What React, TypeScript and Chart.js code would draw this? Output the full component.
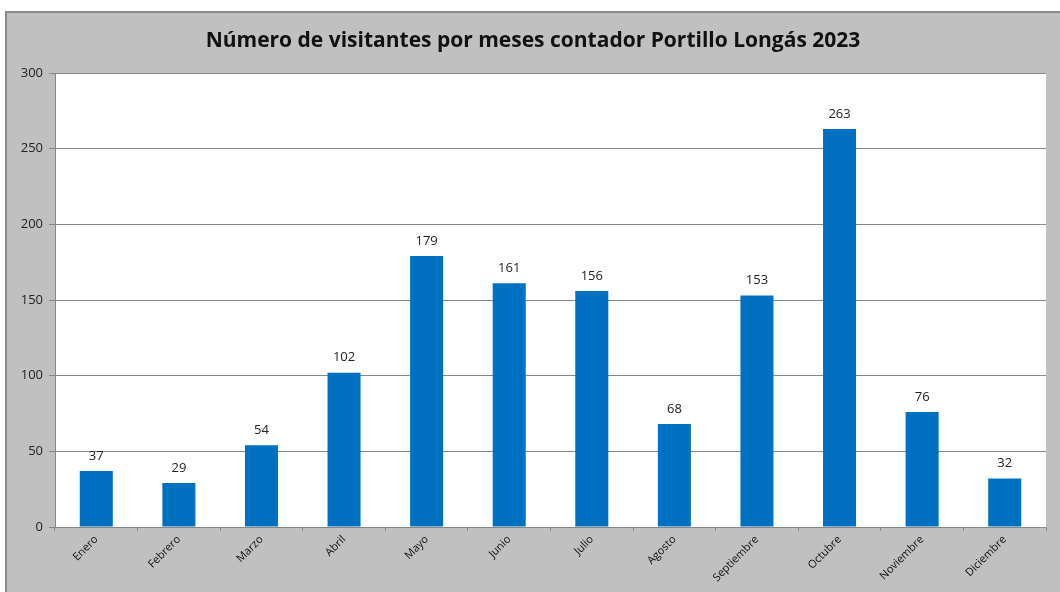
import React, { useEffect, useRef } from "react";
import { Chart, registerables } from "chart.js";

Chart.register(...registerables);

const TITLE = "Número de visitantes por meses contador Portillo Longás 2023";
const MONTHS = [
  "Enero", "Febrero", "Marzo", "Abril", "Mayo", "Junio",
  "Julio", "Agosto", "Septiembre", "Octubre", "Noviembre", "Diciembre",
];
const VISITORS = [37, 29, 54, 102, 179, 161, 156, 68, 153, 263, 76, 32];
const Y_MIN = 0;
const Y_MAX = 300;
const Y_STEP = 50;

const FONT = "'Open Sans', 'DejaVu Sans', sans-serif";

const backgroundPlugin = {
  id: "bgPanel",
  beforeDraw(chart: any) {
    const { ctx, width, height, chartArea } = chart;
    ctx.save();
    ctx.fillStyle = "#ffffff";
    ctx.fillRect(0, 0, width, height);
    ctx.fillStyle = "#c0c0c0";
    ctx.fillRect(5, 11, width - 5, height - 11);
    ctx.strokeStyle = "#8a8a8a";
    ctx.lineWidth = 2;
    ctx.strokeRect(6, 12, width + 10, height + 10);
    ctx.fillStyle = "#ffffff";
    ctx.fillRect(chartArea.left, chartArea.top, chartArea.right - chartArea.left, chartArea.bottom - chartArea.top);
    ctx.fillStyle = "#111111";
    ctx.font = `bold 21px ${FONT}`;
    ctx.textAlign = "center";
    ctx.textBaseline = "middle";
    ctx.fillText(TITLE, 533, 41);
    ctx.restore();
  },
};

const labelPlugin = {
  id: "barLabels",
  afterDatasetsDraw(chart: any) {
    const { ctx } = chart;
    const meta = chart.getDatasetMeta(0);
    const data = chart.data.datasets[0].data;
    ctx.save();
    ctx.fillStyle = "#222222";
    ctx.font = `13px ${FONT}`;
    ctx.textAlign = "center";
    ctx.textBaseline = "middle";
    meta.data.forEach((bar: any, i: number) => {
      ctx.fillText(String(data[i]), bar.x, bar.y - 15);
    });
    ctx.restore();
  },
};

export default function App() {
  const ref = useRef<HTMLCanvasElement | null>(null);
  useEffect(() => {
    if (!ref.current) return;
    const chart = new Chart(ref.current, {
      type: "bar",
      data: {
        labels: MONTHS,
        datasets: [
          {
            data: VISITORS,
            backgroundColor: "#0070c0",
            borderColor: "#0070c0",
            borderWidth: 0,
            categoryPercentage: 1,
            barPercentage: 0.4,
          },
        ],
      },
      options: {
        animation: false,
        responsive: false,
        maintainAspectRatio: false,
        layout: { padding: { top: 73, right: 14, left: 0, bottom: 0 } },
        plugins: {
          legend: { display: false },
          title: { display: false },
          tooltip: { enabled: false },
        },
        scales: {
          x: {
            offset: true,
            grid: {
              display: true,
              drawOnChartArea: false,
              drawTicks: true,
              tickLength: 4,
              offset: true,
              color: "#888888",
            },
            border: { display: true, color: "#888888", width: 1 },
            ticks: {
              color: "#111111",
              font: { family: FONT, size: 11 },
              maxRotation: 45,
              minRotation: 45,
              autoSkip: false,
              padding: 2,
            },
            afterFit(scale: any) {
              scale.height = 65;
            },
          },
          y: {
            min: Y_MIN,
            max: Y_MAX,
            ticks: {
              stepSize: Y_STEP,
              color: "#222222",
              font: { family: FONT, size: 13 },
              padding: 6,
            },
            grid: {
              color: "#888888",
              lineWidth: 1,
              drawTicks: true,
              tickLength: 6,
            },
            border: { display: true, color: "#888888", width: 1 },
            afterFit(scale: any) {
              scale.width = 55;
            },
          },
        },
      },
      plugins: [backgroundPlugin, labelPlugin],
    });
    return () => chart.destroy();
  }, []);

  return (
    <div style={{ position: "absolute", left: 0, top: 0, width: 1060, height: 592 }}>
      <canvas ref={ref} width={1060} height={592} style={{ display: "block" }} />
    </div>
  );
}
